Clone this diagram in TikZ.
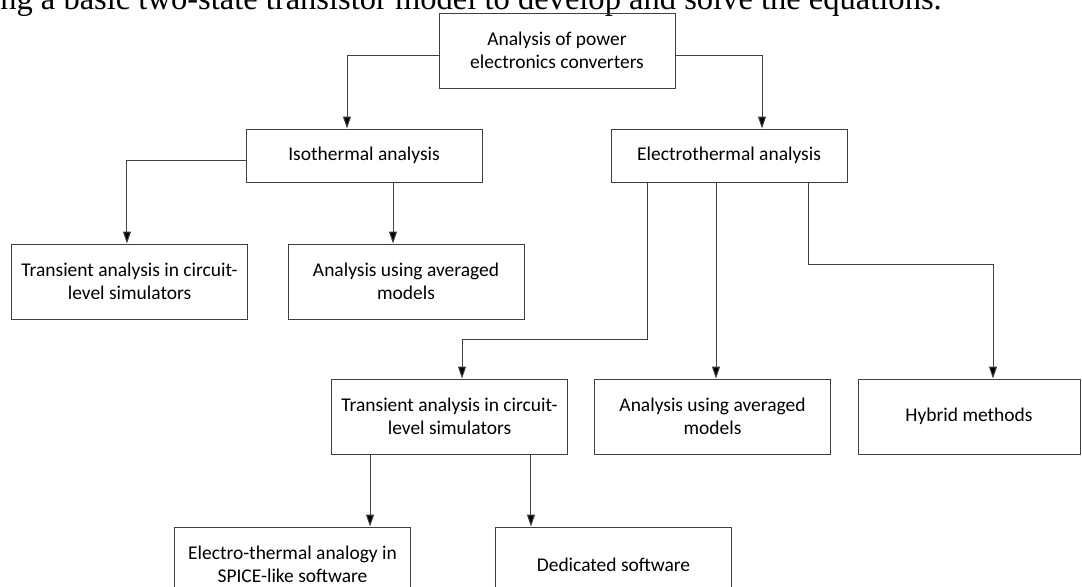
\documentclass[tikz,border=0pt]{standalone}
\usepackage{fontspec}
\setmainfont{Carlito}
\newfontfamily\bodyserif{Liberation Serif}
\usetikzlibrary{arrows.meta}

\tikzset{
    box/.style={draw=black!75, line width=0.75pt, minimum width=177pt, minimum height=56.25pt,
        align=center, inner sep=2pt, font=\fontsize{14.6pt}{17pt}\selectfont},
    thinbox/.style={box, minimum height=39.75pt},
    arr/.style={draw=black!75, line width=0.75pt, -{Triangle[width=6pt,length=9pt,fill=black]}}
}

\begin{document}
\begin{tikzpicture}[x=0.75pt,y=-0.75pt]
        \useasboundingbox (0,0) rectangle (1082,586);

        % Running text above the chart
        \node[anchor=base west, inner sep=0pt, font=\bodyserif\fontsize{24.4pt}{29pt}\selectfont] (txt) at (0,9)
            {ng a basic two-state transistor model to develop and solve the equations.};

        % Root
        \node[box] (root) at (557,50.5) {Analysis of power\\electronics converters};

        % First level
        \node[thinbox] (iso) at (364,155.5) {Isothermal analysis};
        \node[thinbox] (elec) at (729,155.5) {Electrothermal analysis};

        % Isothermal branch
        \node[box] (isoTrans) at (129.5,281.5) {Transient analysis in circuit-\\level simulators};
        \node[box] (isoAvg) at (406,281.5) {Analysis using averaged\\models};

        % Electrothermal branch
        \node[box] (elecTrans) at (449.5,416.5) {Transient analysis in circuit-\\level simulators};
        \node[box] (elecAvg) at (712.5,416.5) {Analysis using averaged\\models};
        \node[box, minimum width=166.5pt] (hybrid) at (969,416.5) {Hybrid methods};

        % Transient branch
        \node[box] (spice) at (292.5,564.5) {Electro-thermal analogy in\\SPICE-like software};
        \node[box] (dedic) at (613.5,564.5) {Dedicated software};

        % Connectors from root
        \draw[arr] ([yshift=-4pt]root.west) -| ([xshift=-12.75pt]iso.north);
        \draw[arr] ([yshift=-4pt]root.east) -| ([xshift=24.75pt]elec.north);

        % Connectors from isothermal
        \draw[arr] ([yshift=-4pt]iso.west) -| ([xshift=-1.9pt]isoTrans.north);
        \draw[arr] ([xshift=21.75pt]iso.south) -- ([xshift=21.75pt]iso.south |- isoAvg.north);

        % Connectors from electrothermal
        \draw[arr] ([xshift=-61.5pt]elec.south) -- ++(0,157) -| ([xshift=9.4pt]elecTrans.north);
        \draw[arr] ([xshift=-9.75pt]elec.south) -- ([xshift=-9.75pt]elec.south |- elecAvg.north);
        \draw[arr] ([xshift=59.25pt]elec.south) -- ++(0,82) -| ([xshift=18pt]hybrid.north);

        % Connectors from transient analysis
        \draw[arr] ([xshift=-59.6pt]elecTrans.south) -- ([xshift=-59.6pt]elecTrans.south |- spice.north);
        \draw[arr] ([xshift=61.1pt]elecTrans.south) -- ([xshift=61.1pt]elecTrans.south |- dedic.north);
    \end{tikzpicture}
\end{document}
